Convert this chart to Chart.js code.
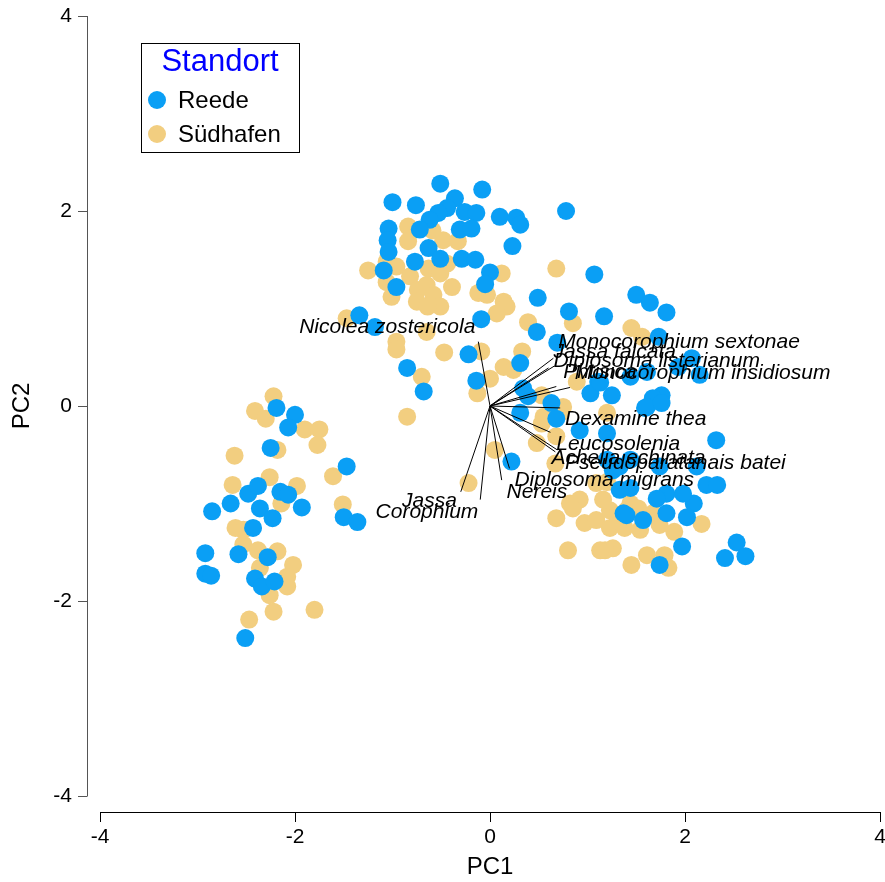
<!DOCTYPE html>
<html>
<head>
<meta charset="utf-8">
<script src="https://cdn.jsdelivr.net/npm/chart.js@4.4.1/dist/chart.umd.min.js"></script>
<style>
  html, body { margin: 0; padding: 0; background: #fff; }
  canvas { display: block; }
</style>
</head>
<body>
<canvas id="pcaChart" width="885" height="882"></canvas>
<script>
// Scores PC1 / PC2 - Reede
const reedeX = [-2.19,-2.00,-2.07,-2.25,-1.47,-2.48,-2.38,-2.66,-2.85,-2.36,-2.15,-2.07,-1.93,-2.23,-2.43,-1.50,-1.36,-2.92,-2.58,-2.28,-2.92,-2.86,-2.41,-2.34,-2.21,-2.51,
  -0.51,-0.08,-1.00,-0.76,-0.36,-0.44,-0.53,-0.62,-0.26,-0.14,0.10,0.27,0.31,-1.04,-0.72,-0.31,-0.19,-1.05,-1.04,-0.63,-0.77,-0.51,-0.29,-0.15,0.23,-1.09,0.00,-0.05,-0.96,0.49,-0.09,-1.34,-1.18,0.48,0.69,-0.22,-0.85,-0.68,-0.14,0.31,
  0.78,1.07,0.81,1.17,0.34,0.39,1.11,1.03,1.25,0.63,0.31,1.50,1.64,1.81,1.73,1.44,1.61,1.93,2.15,2.07,1.76,1.67,1.59,1.13,1.61,1.76,2.32,1.20,1.74,2.22,2.33,2.09,2.02,1.81,1.37,2.53,2.41,2.62,1.97,1.74,1.81,1.98,1.44,1.40,1.57,1.33,1.71,1.26,1.20,1.44,2.12,0.22,0.68,0.92,1.33];
const reedeY = [-0.02,-0.09,-0.22,-0.43,-0.62,-0.90,-0.82,-1.00,-1.08,-1.05,-0.88,-0.91,-1.04,-1.15,-1.25,-1.14,-1.19,-1.51,-1.52,-1.55,-1.72,-1.74,-1.77,-1.85,-1.80,-2.38,
  2.28,2.22,2.09,2.06,2.13,2.03,1.98,1.91,1.99,1.98,1.94,1.93,1.86,1.82,1.81,1.81,1.82,1.70,1.58,1.62,1.48,1.51,1.51,1.50,1.64,1.39,1.37,1.25,1.22,1.11,0.89,0.93,0.81,0.76,0.65,0.53,0.39,0.15,0.26,0.44,
  2.00,1.35,0.97,0.92,0.18,0.10,0.25,0.13,0.11,0.03,-0.07,1.14,1.06,0.96,0.71,0.30,0.35,0.40,0.32,0.49,0.11,0.08,-0.02,0.24,-0.01,0.03,-0.35,-0.28,-0.62,-0.81,-0.81,-1.00,-1.14,-1.10,-1.10,-1.40,-1.56,-1.54,-1.44,-1.63,-0.90,-0.90,-0.84,-1.12,-1.17,-0.86,-0.95,-0.66,-0.55,-0.55,-0.62,-0.57,-0.13,-0.25,-0.62];

// Scores PC1 / PC2 - Südhafen
const suedX = [-2.22,-2.41,-2.30,-1.90,-1.75,-1.77,-2.18,-2.62,-1.61,-2.64,-2.26,-1.98,-2.14,-1.51,-2.61,-2.53,-2.53,-2.38,-2.18,-2.36,-2.02,-2.08,-2.08,-2.26,-2.22,-1.80,-2.47,
  -1.47,-0.96,-0.96,-0.70,-0.85,-0.47,-0.09,-0.65,-0.13,-0.22,-0.84,-0.84,-0.59,-0.48,-0.33,-1.06,-1.25,-0.96,-1.06,-0.63,-0.44,-0.82,-0.51,0.12,-1.01,-0.74,-0.65,-0.58,-0.39,-0.75,-0.51,-0.64,-0.12,-0.03,0.14,0.17,0.07,0.39,0.68,0.14,0.24,0.33,0.00,
  0.85,0.53,0.89,0.72,0.55,1.45,1.56,1.20,2.17,1.79,1.61,1.45,1.26,1.18,1.54,1.74,1.89,1.67,1.40,1.23,1.16,0.68,0.80,0.85,0.97,1.09,1.13,1.23,1.30,1.38,1.44,1.52,1.83,1.09,1.20,0.92,0.82,0.53,0.48,0.05,0.75,0.68,0.67];
const suedY = [0.10,-0.05,-0.13,-0.24,-0.24,-0.40,-0.45,-0.51,-0.72,-0.81,-0.73,-0.82,-1.00,-1.01,-1.25,-1.27,-1.42,-1.48,-1.49,-1.66,-1.63,-1.75,-1.85,-1.94,-2.11,-2.09,-2.19,
  0.90,0.66,0.58,0.30,-0.11,0.55,0.56,0.76,0.13,-0.79,1.84,1.69,1.80,1.70,1.69,1.48,1.39,1.43,1.27,1.41,1.46,1.33,1.36,1.36,1.12,1.19,1.24,1.14,1.22,1.07,1.02,1.02,1.16,1.14,1.07,1.02,0.95,0.86,1.41,0.40,0.37,0.56,0.28,
  0.85,0.11,0.25,-0.07,-0.11,0.80,0.71,-0.07,-1.21,-1.53,-1.53,-1.63,-1.46,-1.48,-1.27,-1.22,-1.29,-1.10,-1.07,-1.07,-0.96,-1.15,-1.48,-1.05,-1.20,-1.17,-1.48,-1.25,-1.12,-1.25,-1.00,-1.05,-1.66,-0.79,-0.78,-0.96,-1.00,-0.18,-0.38,-0.45,-0.01,-0.31,-0.59];

// Loadings: Pfeilspitzen und Beschriftung
const speciesNames = ['Nicolea zostericola','Monocorophium sextonae','Jassa falcata','Diplosoma listerianum','Phtisica','Monocorophium insidiosum',
  'Dexamine thea','Leucosolenia','Achelia echinata','Pseudoparatanais batei','Diplosoma migrans','Nereis','Jassa','Corophium'];
const arrowX = [-0.12,0.65,0.60,0.66,0.68,0.82,0.72,0.62,0.67,0.69,0.20,0.12,-0.30,-0.10];
const arrowY = [0.66,0.49,0.39,0.41,0.20,0.19,-0.02,-0.27,-0.47,-0.45,-0.64,-0.76,-0.88,-0.96];
const labelX = [-0.15,0.70,0.65,0.65,0.75,0.87,0.77,0.68,0.63,0.77,0.25,0.17,-0.34,-0.12];
const labelY = [0.81,0.65,0.55,0.46,0.35,0.34,-0.14,-0.39,-0.53,-0.59,-0.76,-0.88,-0.98,-1.09];
const labelAlign = ['right','left','left','left','left','left','left','left','left','left','left','left','right','right'];

const axisTicks = [-4, -2, 0, 2, 4];
const FONT = '"Liberation Sans", Arial, Helvetica, sans-serif';

function toPoints(xs, ys) {
  return xs.map((v, i) => ({ x: v, y: ys[i] }));
}

// keine Extra-Ränder durch Tick-Labels
function noPad(s) {
  s.paddingLeft = 0; s.paddingRight = 0; s.paddingTop = 0; s.paddingBottom = 0;
}

const biplotPlugin = {
  id: 'biplot',
  afterDatasetsDraw(chart) {
    const { ctx, scales: { x, y } } = chart;
    const x0 = x.getPixelForValue(0), y0 = y.getPixelForValue(0);
    ctx.save();
    ctx.strokeStyle = '#000';
    ctx.lineWidth = 1;
    speciesNames.forEach((name, i) => {
      ctx.beginPath();
      ctx.moveTo(x0, y0);
      ctx.lineTo(x.getPixelForValue(arrowX[i]), y.getPixelForValue(arrowY[i]));
      ctx.stroke();
    });
    ctx.font = 'italic 21px ' + FONT;
    ctx.fillStyle = '#000';
    ctx.textBaseline = 'middle';
    speciesNames.forEach((name, i) => {
      ctx.textAlign = labelAlign[i];
      ctx.fillText(name, x.getPixelForValue(labelX[i]), y.getPixelForValue(labelY[i]));
    });
    ctx.restore();
  },
  afterDraw(chart) {
    const { ctx, chartArea, scales: { x, y } } = chart;
    ctx.save();
    // Achsen im R-Stil (abgesetzt)
    const ax = chartArea.left - 13;
    const ay = chartArea.bottom + 16;
    ctx.lineWidth = 1;
    ctx.strokeStyle = '#555';
    ctx.beginPath();
    ctx.moveTo(ax + 0.5, y.getPixelForValue(4));
    ctx.lineTo(ax + 0.5, y.getPixelForValue(-4));
    axisTicks.forEach(t => {
      const py = Math.round(y.getPixelForValue(t)) + 0.5;
      ctx.moveTo(ax - 9, py);
      ctx.lineTo(ax + 0.5, py);
    });
    ctx.stroke();
    ctx.strokeStyle = '#000';
    ctx.beginPath();
    ctx.moveTo(x.getPixelForValue(-4), ay + 0.5);
    ctx.lineTo(x.getPixelForValue(4), ay + 0.5);
    axisTicks.forEach(t => {
      const px = Math.round(x.getPixelForValue(t)) + 0.5;
      ctx.moveTo(px, ay);
      ctx.lineTo(px, ay + 10);
    });
    ctx.stroke();

    // Legende
    const lx = 141, ly = 43, lw = 158, lh = 109;
    ctx.fillStyle = '#fff';
    ctx.fillRect(lx, ly, lw, lh);
    ctx.strokeStyle = '#000';
    ctx.strokeRect(lx + 0.5, ly + 0.5, lw, lh);
    ctx.fillStyle = '#0000ff';
    ctx.font = '31px ' + FONT;
    ctx.textAlign = 'center';
    ctx.textBaseline = 'middle';
    ctx.fillText('Standort', lx + lw / 2, ly + 19);
    ctx.font = '24px ' + FONT;
    ctx.textAlign = 'left';
    chart.data.datasets.forEach((ds, i) => {
      const cy = ly + 57 + i * 34;
      ctx.fillStyle = ds.backgroundColor;
      ctx.beginPath();
      ctx.arc(lx + 16, cy, 9, 0, Math.PI * 2);
      ctx.fill();
      ctx.fillStyle = '#000';
      ctx.fillText(ds.label, lx + 37, cy + 1);
    });
    ctx.restore();
  }
};

new Chart(document.getElementById('pcaChart'), {
  type: 'scatter',
  data: {
    datasets: [
      { label: 'Reede', data: toPoints(reedeX, reedeY), backgroundColor: '#0a9ff5', borderWidth: 0, pointRadius: 9, pointHoverRadius: 9 },
      { label: 'Südhafen', data: toPoints(suedX, suedY), backgroundColor: '#f2ce80', borderWidth: 0, pointRadius: 9, pointHoverRadius: 9 }
    ]
  },
  options: {
    responsive: false,
    animation: false,
    devicePixelRatio: 1,
    layout: { autoPadding: false, padding: { top: 16, right: 5, left: 0, bottom: 0 } },
    plugins: { legend: { display: false }, tooltip: { enabled: false } },
    scales: {
      x: {
        type: 'linear', min: -4, max: 4,
        afterFit: s => { s.height = 86; noPad(s); },
        grid: { display: false, drawTicks: false },
        border: { display: false },
        ticks: { stepSize: 2, color: '#000', padding: 29, font: { size: 21, family: FONT } },
        title: { display: true, text: 'PC1', color: '#000', font: { size: 24, family: FONT }, padding: { top: 0, bottom: 0 } }
      },
      y: {
        type: 'linear', min: -4, max: 4,
        afterFit: s => { s.width = 100; noPad(s); },
        grid: { display: false, drawTicks: false },
        border: { display: false },
        ticks: { stepSize: 2, color: '#000', padding: 28, font: { size: 21, family: FONT } },
        title: { display: true, text: 'PC2', color: '#000', font: { size: 24, family: FONT }, padding: { top: 8, bottom: 0 } }
      }
    }
  },
  plugins: [biplotPlugin]
});
</script>
</body>
</html>
